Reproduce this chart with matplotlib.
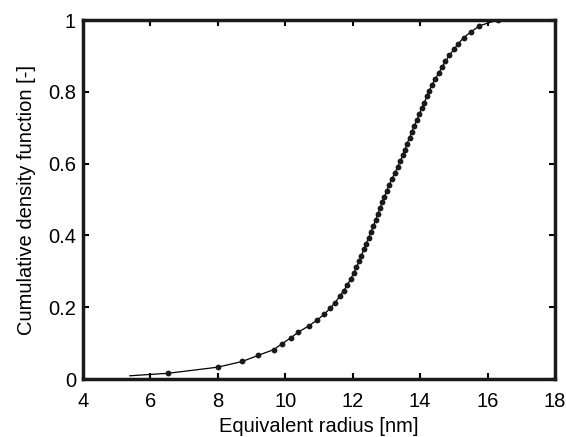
import numpy as np
import matplotlib
matplotlib.use("Agg")
import matplotlib.pyplot as plt

plt.rcParams['font.family'] = ['Liberation Sans', 'DejaVu Sans']

# equivalent radius [nm] of the sorted samples
radius = [6.53, 8.00, 8.73, 9.20, 9.66, 9.90, 10.17, 10.39, 10.70, 10.94,
          11.15, 11.33, 11.48, 11.61, 11.73, 11.84, 11.94, 12.03, 12.11, 12.19,
          12.26, 12.33, 12.40, 12.47, 12.54, 12.61, 12.68, 12.74, 12.81, 12.87,
          12.94, 13.01, 13.08, 13.16, 13.25, 13.33, 13.41, 13.48, 13.55, 13.61,
          13.69, 13.75, 13.82, 13.90, 13.97, 14.05, 14.12, 14.20, 14.27, 14.35,
          14.45, 14.55, 14.65, 14.75, 14.87, 15.00, 15.13, 15.29, 15.51, 15.76,
          16.30]
cdf = [0.016, 0.033, 0.049, 0.066, 0.082, 0.098, 0.115, 0.131, 0.148, 0.164,
       0.180, 0.197, 0.213, 0.230, 0.246, 0.262, 0.279, 0.295, 0.311, 0.328,
       0.344, 0.361, 0.377, 0.393, 0.410, 0.426, 0.443, 0.459, 0.475, 0.492,
       0.508, 0.525, 0.541, 0.557, 0.574, 0.590, 0.607, 0.623, 0.639, 0.656,
       0.672, 0.689, 0.705, 0.721, 0.738, 0.754, 0.770, 0.787, 0.803, 0.820,
       0.836, 0.852, 0.869, 0.885, 0.902, 0.918, 0.934, 0.951, 0.967, 0.984,
       1.000]
# the solid curve starts a bit below the first sample
curve_start_x = 5.39
curve_start_y = 0.009

xticks = [4, 6, 8, 10, 12, 14, 16, 18]
yticks = [0, 0.2, 0.4, 0.6, 0.8, 1]
ytick_labels = ['0', '0.2', '0.4', '0.6', '0.8', '1']

fig = plt.figure(figsize=(5.66, 4.37), dpi=100)
ax = fig.add_axes([0.1466, 0.1327, 0.834, 0.8215])

ax.plot([curve_start_x] + radius, [curve_start_y] + cdf, color='k', lw=0.9)
ax.plot(radius, cdf, 'o', color='#1a1a1a', markersize=4.2, markeredgewidth=0)

ax.set_xlim(4, 18)
ax.set_ylim(0, 1)
ax.set_xticks(xticks)
ax.set_yticks(yticks)
ax.set_yticklabels(ytick_labels)
ax.tick_params(direction='in', length=4, width=1.5, top=True, right=True,
               labelsize=14.5, colors='k')
ax.tick_params(axis='x', pad=9)
ax.tick_params(axis='y', pad=5)
for s in ax.spines.values():
    s.set_linewidth(2.5)
    s.set_color('#1a1a1a')

ax.set_xlabel('Equivalent radius [nm]', fontsize=14.5, labelpad=5)
ax.set_ylabel('Cumulative density function [-]', fontsize=14.5, labelpad=9)

fig.savefig('out.png', dpi=100)
